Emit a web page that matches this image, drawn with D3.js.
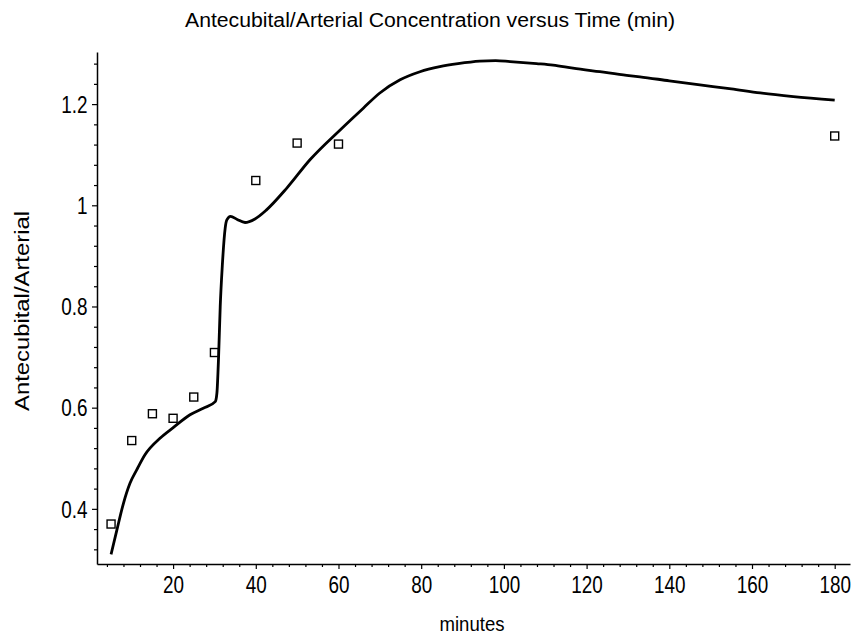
<!DOCTYPE html>
<html>
<head>
<meta charset="utf-8">
<script src="https://cdn.jsdelivr.net/npm/d3@7"></script>
<style>
  html, body { margin: 0; padding: 0; background: #fff; }
  svg { display: block; }
  text { font-family: "Liberation Sans", Arial, "DejaVu Sans", sans-serif; fill: #000; }
</style>
</head>
<body>
<svg id="chart" width="854" height="639"></svg>
<script>
// Measured ratios (minutes, antecubital/arterial)
const obsTime  = [5, 10, 15, 20, 25, 30, 40, 50, 60, 180];
const obsRatio = [0.37, 0.535, 0.588, 0.579, 0.621, 0.709, 1.049, 1.123, 1.121, 1.137];

// Fitted model curve
const fitTime  = [5, 6.4, 8.0, 9.6, 11.2, 13.2, 16.9, 20.1, 24.1, 27.3, 30.2, 30.6, 31.0, 31.4, 31.9, 32.6, 33.0, 33.9, 35.5, 37.4, 39.8, 42.6, 47.5, 53.1, 60.4, 66, 70, 74.9, 79.7, 84.5, 88.9, 94.2, 98, 101.5, 107.9, 111.9, 116.7, 123.2, 129.7, 132.9, 140, 147.4, 155, 162, 170, 180];
const fitRatio = [0.31, 0.358, 0.411, 0.451, 0.477, 0.507, 0.540, 0.561, 0.586, 0.599, 0.612, 0.629, 0.70, 0.80, 0.88, 0.955, 0.971, 0.978, 0.972, 0.966, 0.973, 0.991, 1.034, 1.09, 1.149, 1.192, 1.222, 1.248, 1.264, 1.274, 1.28, 1.285, 1.286, 1.284, 1.28, 1.277, 1.271, 1.264, 1.257, 1.254, 1.246, 1.238, 1.23, 1.222, 1.215, 1.208];

// Axis ticks
const xMajor = [20, 40, 60, 80, 100, 120, 140, 160, 180];
const yMajor = [0.4, 0.6, 0.8, 1, 1.2];

const titleText = "Antecubital/Arterial Concentration versus Time (min)";
const xLabel = "minutes";
const yLabel = "Antecubital/Arterial";

const svg = d3.select("#chart");

const x = d3.scaleLinear().domain([1.6, 183.7]).range([97, 850]);
const y = d3.scaleLinear().domain([0.291, 1.303]).range([564, 52]);

const xMinor = d3.range(4, 184, 4).filter(v => v % 20 !== 0);
const yMinor = d3.range(0.32, 1.29, 0.04).map(v => +v.toFixed(2)).filter(v => Math.abs(v * 5 - Math.round(v * 5)) > 1e-6);

// Tall, narrow tick lettering
const sx = 0.9, sy = 1.12;

// X axis
const xAxis = d3.axisBottom(x).tickValues(xMajor).tickSize(5).tickSizeOuter(0).tickFormat(d3.format("d"));
const gx = svg.append("g").attr("transform", `translate(0,${y.range()[0]})`).call(xAxis);
gx.select(".domain").attr("stroke", "#000").attr("stroke-width", 1.5);
gx.selectAll(".tick line").attr("stroke", "#000").attr("stroke-width", 1.2);
gx.selectAll(".tick text").attr("font-size", 21).attr("y", 29.5 / sy).attr("dy", 0)
  .attr("transform", `scale(${sx},${sy})`);
const gxm = svg.append("g").attr("transform", `translate(0,${y.range()[0]})`)
  .call(d3.axisBottom(x).tickValues(xMinor).tickSize(3).tickFormat(""));
gxm.select(".domain").remove();
gxm.selectAll(".tick line").attr("stroke", "#000").attr("stroke-width", 1.2);

// Y axis
const yAxis = d3.axisLeft(y).tickValues(yMajor).tickSize(5).tickSizeOuter(0).tickFormat(d => d3.format("")(+d.toFixed(1)));
const gy = svg.append("g").attr("transform", `translate(${x.range()[0]},0)`).call(yAxis);
gy.select(".domain").attr("stroke", "#000").attr("stroke-width", 1.5);
gy.selectAll(".tick line").attr("stroke", "#000").attr("stroke-width", 1.2);
gy.selectAll(".tick text").attr("font-size", 21).attr("x", -9.5 / sx).attr("y", 8.2 / sy).attr("dy", 0)
  .attr("transform", `scale(${sx},${sy})`);
const gym = svg.append("g").attr("transform", `translate(${x.range()[0]},0)`)
  .call(d3.axisLeft(y).tickValues(yMinor).tickSize(3).tickFormat(""));
gym.select(".domain").remove();
gym.selectAll(".tick line").attr("stroke", "#000").attr("stroke-width", 1.2);

// Fitted curve
const fitData = fitTime.map((t, i) => [t, fitRatio[i]]);
svg.append("path")
  .datum(fitData)
  .attr("fill", "none")
  .attr("stroke", "#000")
  .attr("stroke-width", 2.8)
  .attr("stroke-linejoin", "round")
  .attr("d", d3.line().x(d => x(d[0])).y(d => y(d[1])).curve(d3.curveMonotoneX));

// Observed points as open squares
const s = 8;
svg.append("g").selectAll("rect")
  .data(obsTime.map((t, i) => [t, obsRatio[i]]))
  .join("rect")
  .attr("x", d => x(d[0]) - s / 2)
  .attr("y", d => y(d[1]) - s / 2)
  .attr("width", s).attr("height", s)
  .attr("fill", "none").attr("stroke", "#000").attr("stroke-width", 1.4);

// Titles
svg.append("text").attr("x", 430).attr("y", 27).attr("text-anchor", "middle")
  .attr("font-size", 20).attr("textLength", 490).attr("lengthAdjust", "spacingAndGlyphs")
  .text(titleText);
svg.append("text").attr("x", 472).attr("y", 631).attr("text-anchor", "middle")
  .attr("font-size", 20).attr("textLength", 65).attr("lengthAdjust", "spacingAndGlyphs")
  .text(xLabel);
svg.append("text").attr("transform", "translate(29,311) rotate(-90)").attr("text-anchor", "middle")
  .attr("font-size", 20).attr("textLength", 200).attr("lengthAdjust", "spacingAndGlyphs")
  .text(yLabel);
</script>
</body>
</html>
